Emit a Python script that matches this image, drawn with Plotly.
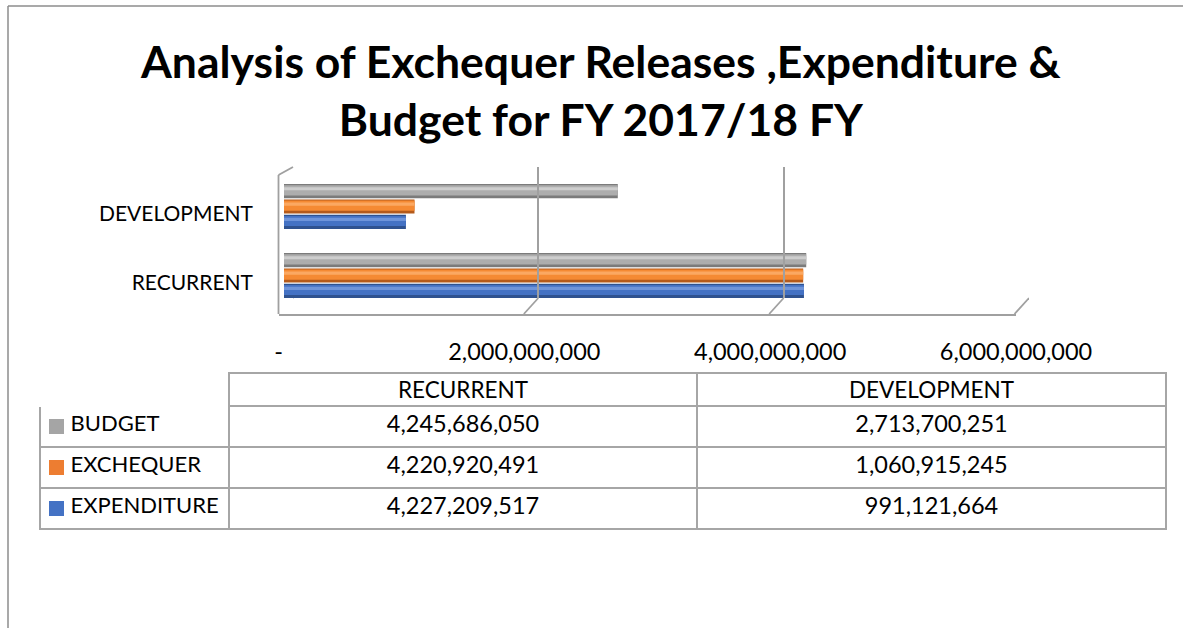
import plotly.graph_objects as go

W, H = 1183, 628

categories = ["RECURRENT", "DEVELOPMENT"]
series = ["EXPENDITURE", "EXCHEQUER", "BUDGET"]
expenditure = [4227209517, 991121664]
exchequer = [4220920491, 1060915245]
budget = [4245686050, 2713700251]
tick_vals = [0, 2000000000, 4000000000, 6000000000]
tick_text = ["-", "2,000,000,000", "4,000,000,000", "6,000,000,000"]

values = {"EXPENDITURE": expenditure, "EXCHEQUER": exchequer, "BUDGET": budget}
# base colour, dark edge, highlight
colours = {
    "EXPENDITURE": ("#4472C4", "#2F528F", "#6E94DA"),
    "EXCHEQUER": ("#F58A33", "#B45A1B", "#FBA862"),
    "BUDGET": ("#ADADAD", "#7B7B7B", "#CDCDCD"),
}
legend_colours = {"EXPENDITURE": "#4472C4", "EXCHEQUER": "#ED7D31", "BUDGET": "#A5A5A5"}

FONT = "Lato"


def px(x):
    return x / W


def py(y):
    return 1 - y / H


fig = go.Figure()

# bars, faked cylinders with three stacked layers
pitch = 0.222
bw = 0.205
for i, s in enumerate(series):
    base, edge, hi = colours[s]
    centre = (i - 1) * pitch
    for w, c, dy in [(bw, edge, 0), (bw * 0.72, base, 0.012), (bw * 0.22, hi, 0.035)]:
        fig.add_trace(go.Bar(
            y=categories, x=values[s], orientation="h",
            width=w, offset=centre - w / 2 + dy,
            marker=dict(color=c, line=dict(width=0)),
            name=s, showlegend=False, hoverinfo="x+name",
        ))

# back wall grid (invisible helper trace)
fig.add_trace(go.Scatter(x=tick_vals, y=[0] * 4, xaxis="x2", yaxis="y2",
                         mode="markers", marker=dict(opacity=0), hoverinfo="skip", showlegend=False))
# front floor axis (invisible helper trace)
fig.add_trace(go.Scatter(x=tick_vals, y=[0] * 4, xaxis="x3", yaxis="y3",
                         mode="markers", marker=dict(opacity=0), hoverinfo="skip", showlegend=False))

# data table
def fmt(v):
    return f"{v:,}"

table_rows = ["BUDGET", "EXCHEQUER", "EXPENDITURE"]
row_labels = ["\u00a0" * 4 + s for s in table_rows]
rec_col = [fmt(budget[0]), fmt(exchequer[0]), fmt(expenditure[0])]
dev_col = [fmt(budget[1]), fmt(exchequer[1]), fmt(expenditure[1])]

fig.add_trace(go.Table(
    domain=dict(x=[px(40), px(1166)], y=[py(531), py(373)]),
    columnwidth=[189, 468, 469],
    header=dict(values=["", "RECURRENT", "DEVELOPMENT"], height=33,
                align="center", fill_color="white",
                line=dict(color=["white", "#A6A6A6", "#A6A6A6"], width=1.5),
                font=dict(family=FONT, size=22.5, color="black")),
    cells=dict(values=[row_labels, rec_col, dev_col], height=41,
               align=["left", "center", "center"], fill_color="white",
               line=dict(color="#A6A6A6", width=1.5),
               font=dict(family=FONT, size=[22, 23.5, 23.5], color="black")),
))

grid = "#A0A0A0"
shapes = [
    # outer chart frame (left and top edges)
    dict(type="line", xref="paper", yref="paper", x0=px(8), x1=px(8), y0=py(6), y1=0,
         line=dict(color="#8C8C8C", width=1.5)),
    dict(type="line", xref="paper", yref="paper", x0=px(8), x1=1, y0=py(6), y1=py(6),
         line=dict(color="#8C8C8C", width=1.5)),
    # left wall
    dict(type="line", xref="paper", yref="paper", x0=px(278.5), x1=px(278.5), y0=py(175), y1=py(314),
         line=dict(color=grid, width=1.8)),
    dict(type="line", xref="paper", yref="paper", x0=px(278.5), x1=px(293), y0=py(175), y1=py(167),
         line=dict(color=grid, width=1.8)),
]
for v in tick_vals:
    shapes.append(dict(type="line", xref="x2", xsizemode="pixel", xanchor=v, x0=0, x1=-14.5,
                       yref="paper", y0=py(298), y1=py(314), line=dict(color=grid, width=1.8)))
# legend keys in the table
for k, s in enumerate(table_rows):
    yc = 426.5 + 41 * k
    shapes.append(dict(type="rect", xref="paper", yref="paper", x0=px(49), x1=px(64),
                       y0=py(yc + 7.5), y1=py(yc - 7.5), fillcolor=legend_colours[s], line=dict(width=0)))
fig.update_layout(shapes=shapes)

fig.update_layout(
    width=W, height=H,
    autosize=False,
    showlegend=False,
    margin=dict(l=0, r=0, t=0, b=0, pad=0, autoexpand=False),
    paper_bgcolor="white", plot_bgcolor="rgba(0,0,0,0)",
    barmode="overlay",
    font=dict(family=FONT, size=20, color="black"),
    xaxis=dict(domain=[px(284), px(1022)], range=[0, 6e9], anchor="y", automargin=False,
               showgrid=False, zeroline=False, showticklabels=False, fixedrange=True),
    yaxis=dict(domain=[py(310), py(172)], type="category", categoryorder="array", automargin=False,
               categoryarray=categories, range=[-0.5, 1.5], showgrid=False, zeroline=False,
               showline=False, ticks="", ticklabelstandoff=30, ticklabelshift=7,
               tickfont=dict(family=FONT, size=21, color="black")),
    xaxis2=dict(domain=[px(293), px(1029)], range=[0, 6e9], anchor="y2", automargin=False,
                tickvals=tick_vals, showgrid=True, gridcolor=grid, gridwidth=1.8,
                zeroline=False, showticklabels=False, ticks=""),
    yaxis2=dict(domain=[py(298), py(167)], range=[0, 1], visible=False, anchor="x2", automargin=False),
    xaxis3=dict(domain=[px(278.5), px(1016)], range=[0, 6e9], anchor="y3", automargin=False,
                tickvals=tick_vals, ticktext=tick_text, showgrid=False,
                zeroline=False, showline=True, linecolor=grid, linewidth=1.8, ticks="",
                ticklabelstandoff=16, tickfont=dict(family=FONT, size=23.5, color="black")),
    yaxis3=dict(domain=[py(314), py(300)], range=[0, 1], visible=False, anchor="x3", automargin=False),
    annotations=[dict(text="<b>Analysis of Exchequer Releases ,Expenditure &<br>Budget for FY 2017/18 FY</b>",
                      x=px(601), y=py(90), xref="paper", yref="paper", showarrow=False,
                      xanchor="center", yanchor="middle",
                      font=dict(family=FONT, size=44.5, color="black"), align="center")],
)

fig.write_html("out.html", config={"displayModeBar": False},
               post_script="document.body.style.margin='0';document.body.style.overflow='hidden';")
